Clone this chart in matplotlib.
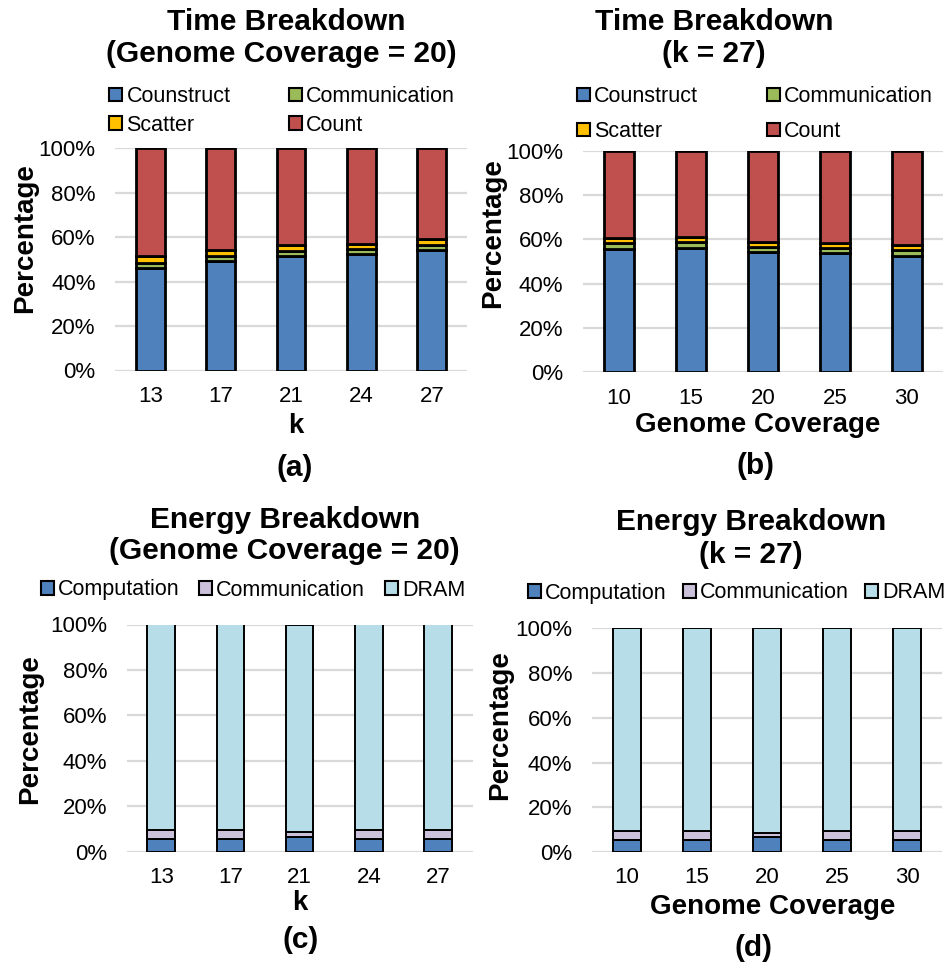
import matplotlib
matplotlib.use("Agg")
import matplotlib.pyplot as plt
from matplotlib.patches import Patch
from matplotlib.ticker import FuncFormatter

plt.rcParams["font.family"] = ["Liberation Sans", "DejaVu Sans"]

# ---- data -------------------------------------------------------------
k_labels = ["13", "17", "21", "24", "27"]
cov_labels = ["10", "15", "20", "25", "30"]

# time breakdown vs k (genome coverage = 20), percent
t_k_construct = [46.2, 49.3, 51.6, 52.7, 54.2]
t_k_comm = [2.4, 2.3, 2.4, 2.1, 2.4]
t_k_scatter = [2.9, 2.9, 2.7, 2.4, 2.5]
t_k_count = [48.5, 45.5, 43.3, 42.8, 40.9]

# time breakdown vs genome coverage (k = 27), percent
t_c_construct = [55.8, 56.3, 54.3, 53.7, 52.6]
t_c_comm = [2.4, 2.4, 2.4, 2.4, 2.5]
t_c_scatter = [2.3, 2.2, 2.1, 2.3, 2.4]
t_c_count = [39.5, 39.1, 41.2, 41.6, 42.5]

# energy breakdown vs k (genome coverage = 20), percent
e_k_comp = [5.5, 5.5, 6.6, 5.5, 5.5]
e_k_comm = [4.1, 4.1, 1.9, 4.1, 4.1]
e_k_dram = [90.4, 90.4, 91.5, 90.4, 90.4]

# energy breakdown vs genome coverage (k = 27), percent
e_c_comp = [5.5, 5.5, 6.6, 5.5, 5.5]
e_c_comm = [4.1, 4.1, 1.9, 4.1, 4.1]
e_c_dram = [90.4, 90.4, 91.5, 90.4, 90.4]

time_names = ["Counstruct", "Communication", "Scatter", "Count"]
time_colors = ["#4F81BD", "#9BBB59", "#FFC000", "#C0504D"]
energy_names = ["Computation", "Communication", "DRAM"]
energy_colors = ["#4F81BD", "#CCC1DA", "#B7DEE8"]

TITLE = 21.5
LABEL = 20
TICK = 16
LEG = 15.5

W, H = 948, 965
fig = plt.figure(figsize=(W / 100, H / 100), dpi=100)


def box(x0, x1, ytop, ybot):
    return [x0 / W, 1 - ybot / H, (x1 - x0) / W, (ybot - ytop) / H]


def ftext(x, y, s, va="center", **kw):
    fig.text(x / W, 1 - y / H, s, ha="center", va=va, **kw)


def style(ax, labels):
    ax.set_ylim(0, 100)
    ax.set_xlim(-0.5, len(labels) - 0.5)
    ax.set_yticks(range(0, 101, 20))
    ax.yaxis.set_major_formatter(FuncFormatter(lambda v, p: f"{v:.0f}%"))
    ax.set_xticks(range(len(labels)))
    ax.set_xticklabels(labels)
    ax.tick_params(axis="both", length=0, labelsize=TICK)
    ax.tick_params(axis="y", pad=14)
    ax.tick_params(axis="x", pad=11)
    for s in ax.spines.values():
        s.set_visible(False)
    ax.grid(axis="y", color="#D9D9D9", linewidth=1.6, zorder=0)
    ax.set_axisbelow(True)


def stack(ax, series, colors, width, lw):
    x = range(len(series[0]))
    bottom = [0.0] * len(series[0])
    for vals, col in zip(series, colors):
        ax.bar(x, vals, width, bottom=bottom, color=col, edgecolor="black",
               linewidth=lw, zorder=3)
        bottom = [b + v for b, v in zip(bottom, vals)]


def legend(ax, names, colors, ncol, anchor, colspace, rowspace=0.4, order=None):
    handles = [Patch(facecolor=c, edgecolor="black", linewidth=1.5) for c in colors]
    if order is not None:
        handles = [handles[i] for i in order]
        names = [names[i] for i in order]
    ax.legend(handles, names, ncol=ncol, loc="center",
              bbox_to_anchor=(anchor[0] / W, 1 - anchor[1] / H),
              bbox_transform=fig.transFigure, frameon=False, fontsize=LEG,
              handlelength=0.6, handleheight=0.6, handletextpad=0.2,
              columnspacing=colspace, labelspacing=rowspace, borderpad=0)


# legend rows read left to right: Counstruct, Communication / Scatter, Count
row_order = [0, 2, 1, 3]

# (a) time vs k
ax_a = fig.add_axes(box(115, 467, 148.5, 370.5))
stack(ax_a, [t_k_construct, t_k_comm, t_k_scatter, t_k_count], time_colors, 0.41, 2.0)
style(ax_a, k_labels)
legend(ax_a, time_names, time_colors, 2, (282, 111), 2.7, 0.35, row_order)
ftext(286, 22, "Time Breakdown", fontsize=TITLE, fontweight="bold")
ftext(281, 54, "(Genome Coverage = 20)", fontsize=TITLE, fontweight="bold")
ftext(25, 238, "Percentage", fontsize=LABEL, fontweight="bold", rotation=90)
ftext(296, 433, "k", va="baseline", fontsize=LABEL, fontweight="bold")
ftext(295, 468, "(a)", fontsize=TITLE, fontweight="bold")

# (b) time vs coverage
ax_b = fig.add_axes(box(582.7, 943, 150.8, 372.3))
stack(ax_b, [t_c_construct, t_c_comm, t_c_scatter, t_c_count], time_colors, 0.42, 2.0)
style(ax_b, cov_labels)
legend(ax_b, time_names, time_colors, 2, (755, 114), 3.2, 0.65, row_order)
ftext(714, 22, "Time Breakdown", fontsize=TITLE, fontweight="bold")
ftext(714, 54, "(k = 27)", fontsize=TITLE, fontweight="bold")
ftext(493, 233, "Percentage", fontsize=LABEL, fontweight="bold", rotation=90)
ftext(758, 425, "Genome Coverage", fontsize=LABEL, fontweight="bold")
ftext(756, 466, "(b)", fontsize=TITLE, fontweight="bold")

# (c) energy vs k
ax_c = fig.add_axes(box(126.6, 472.6, 624.5, 851.7))
stack(ax_c, [e_k_comp, e_k_comm, e_k_dram], energy_colors, 0.40, 1.4)
style(ax_c, k_labels)
legend(ax_c, energy_names, energy_colors, 3, (253, 590), 0.9)
ftext(285, 520, "Energy Breakdown", fontsize=TITLE, fontweight="bold")
ftext(284, 551, "(Genome Coverage = 20)", fontsize=TITLE, fontweight="bold")
ftext(30, 729, "Percentage", fontsize=LABEL, fontweight="bold", rotation=90)
ftext(300, 910, "k", va="baseline", fontsize=LABEL, fontweight="bold")
ftext(301, 940, "(c)", fontsize=TITLE, fontweight="bold")

# (d) energy vs coverage
ax_d = fig.add_axes(box(591.7, 942.4, 628.3, 852))
stack(ax_d, [e_c_comp, e_c_comm, e_c_dram], energy_colors, 0.40, 1.4)
style(ax_d, cov_labels)
legend(ax_d, energy_names, energy_colors, 3, (737, 593), 0.75)
ftext(751, 522, "Energy Breakdown", fontsize=TITLE, fontweight="bold")
ftext(751, 555, "(k = 27)", fontsize=TITLE, fontweight="bold")
ftext(500, 725, "Percentage", fontsize=LABEL, fontweight="bold", rotation=90)
ftext(773, 907, "Genome Coverage", fontsize=LABEL, fontweight="bold")
ftext(753, 948, "(d)", fontsize=TITLE, fontweight="bold")

fig.savefig("out.png", dpi=100)
